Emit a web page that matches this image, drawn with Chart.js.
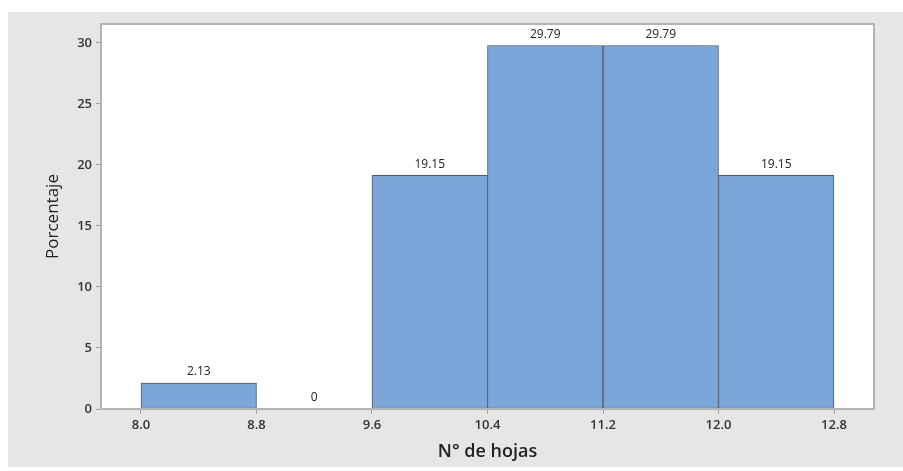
<!DOCTYPE html>
<html>
<head>
<meta charset="utf-8">
<script src="https://cdn.jsdelivr.net/npm/chart.js@4/dist/chart.umd.min.js"></script>
<style>
  html, body { margin: 0; padding: 0; background: #ffffff; }
  #wrap { width: 903px; height: 471px; position: relative; }
</style>
</head>
<body>
<div id="wrap"><canvas id="c" width="903" height="471"></canvas></div>
<script>
// ---- Data ----
const binCenters = [8.4, 9.2, 10.0, 10.8, 11.6, 12.4];
const percentages = [2.13, 0, 19.15, 29.79, 29.79, 19.15];
const valueLabels = ["2.13", "0", "19.15", "29.79", "29.79", "19.15"];
const xTickValues = [8.0, 8.8, 9.6, 10.4, 11.2, 12.0, 12.8];
const xTickLabels = ["8.0", "8.8", "9.6", "10.4", "11.2", "12.0", "12.8"];
const yTickValues = [0, 5, 10, 15, 20, 25, 30];
const xTitle = "N° de hojas";
const yTitle = "Porcentaje";

const FONT = "'Open Sans', 'Noto Sans', 'DejaVu Sans', sans-serif";

const frameBg = {
  id: 'frameBg',
  beforeDraw(chart) {
    const ctx = chart.ctx;
    const a = chart.chartArea;
    ctx.save();
    ctx.fillStyle = '#ffffff';
    ctx.fillRect(0, 0, chart.width, chart.height);
    ctx.fillStyle = '#e6e6e6';
    ctx.fillRect(8, 12, chart.width - 8, 455);
    ctx.fillStyle = '#ffffff';
    ctx.fillRect(a.left, a.top, a.right - a.left, a.bottom - a.top);
    ctx.restore();
  },
  afterDraw(chart) {
    const ctx = chart.ctx;
    const a = chart.chartArea;
    ctx.save();
    ctx.strokeStyle = '#b4b4b4';
    ctx.lineWidth = 2;
    ctx.strokeRect(a.left, a.top, a.right - a.left, a.bottom - a.top);
    ctx.restore();
  }
};

const valueLabelPlugin = {
  id: 'valueLabels',
  afterDatasetsDraw(chart) {
    const ctx = chart.ctx;
    const meta = chart.getDatasetMeta(0);
    ctx.save();
    ctx.font = "12px " + FONT;
    ctx.fillStyle = '#222222';
    ctx.textAlign = 'center';
    ctx.textBaseline = 'bottom';
    meta.data.forEach((el, i) => {
      ctx.fillText(valueLabels[i], el.x, el.y - 5);
    });
    ctx.restore();
  }
};

new Chart(document.getElementById('c'), {
  type: 'bar',
  data: {
    datasets: [{
      data: binCenters.map((x, i) => ({ x: x, y: percentages[i] })),
      backgroundColor: '#7ba6d9',
      borderColor: '#4f5966',
      borderWidth: (ctx) => (ctx.raw && ctx.raw.y === 0 ? 0 : 1),
      borderSkipped: false,
      barPercentage: 1,
      categoryPercentage: 1,
      grouped: false
    }]
  },
  options: {
    responsive: false,
    animation: false,
    devicePixelRatio: 1,
    layout: { padding: { left: 0, top: 24, right: 29, bottom: 0 } },
    plugins: { legend: { display: false }, tooltip: { enabled: false } },
    scales: {
      x: {
        type: 'linear',
        offset: false,
        min: 7.723,
        max: 13.077,
        afterBuildTicks(scale) { scale.ticks = xTickValues.map(v => ({ value: v })); },
        afterFit(scale) { scale.height = 62; },
        ticks: {
          autoSkip: false,
          maxRotation: 0,
          padding: 3,
          color: '#333333',
          font: { family: FONT, size: 13, weight: '600' },
          callback: (v, i) => xTickLabels[i]
        },
        grid: { offset: false, drawOnChartArea: false, drawTicks: true, tickLength: 5, color: '#a0a0a0' },
        border: { display: true, color: '#b4b4b4', width: 2 },
        title: {
          display: true,
          text: xTitle,
          color: '#222222',
          font: { family: FONT, size: 18, weight: '600' },
          padding: { top: 0, bottom: 8 }
        }
      },
      y: {
        type: 'linear',
        min: 0,
        max: 31.55,
        afterBuildTicks(scale) { scale.ticks = yTickValues.map(v => ({ value: v })); },
        afterFit(scale) { scale.width = 101; },
        ticks: {
          padding: 4,
          color: '#333333',
          font: { family: FONT, size: 13, weight: '600' }
        },
        grid: { drawOnChartArea: false, drawTicks: true, tickLength: 5, color: '#a0a0a0' },
        border: { display: true, color: '#b4b4b4', width: 2 },
        title: {
          display: true,
          text: yTitle,
          color: '#222222',
          font: { family: FONT, size: 17, weight: '500' },
          padding: { top: 43, bottom: 0 }
        }
      }
    }
  },
  plugins: [frameBg, valueLabelPlugin]
});
</script>
</body>
</html>
